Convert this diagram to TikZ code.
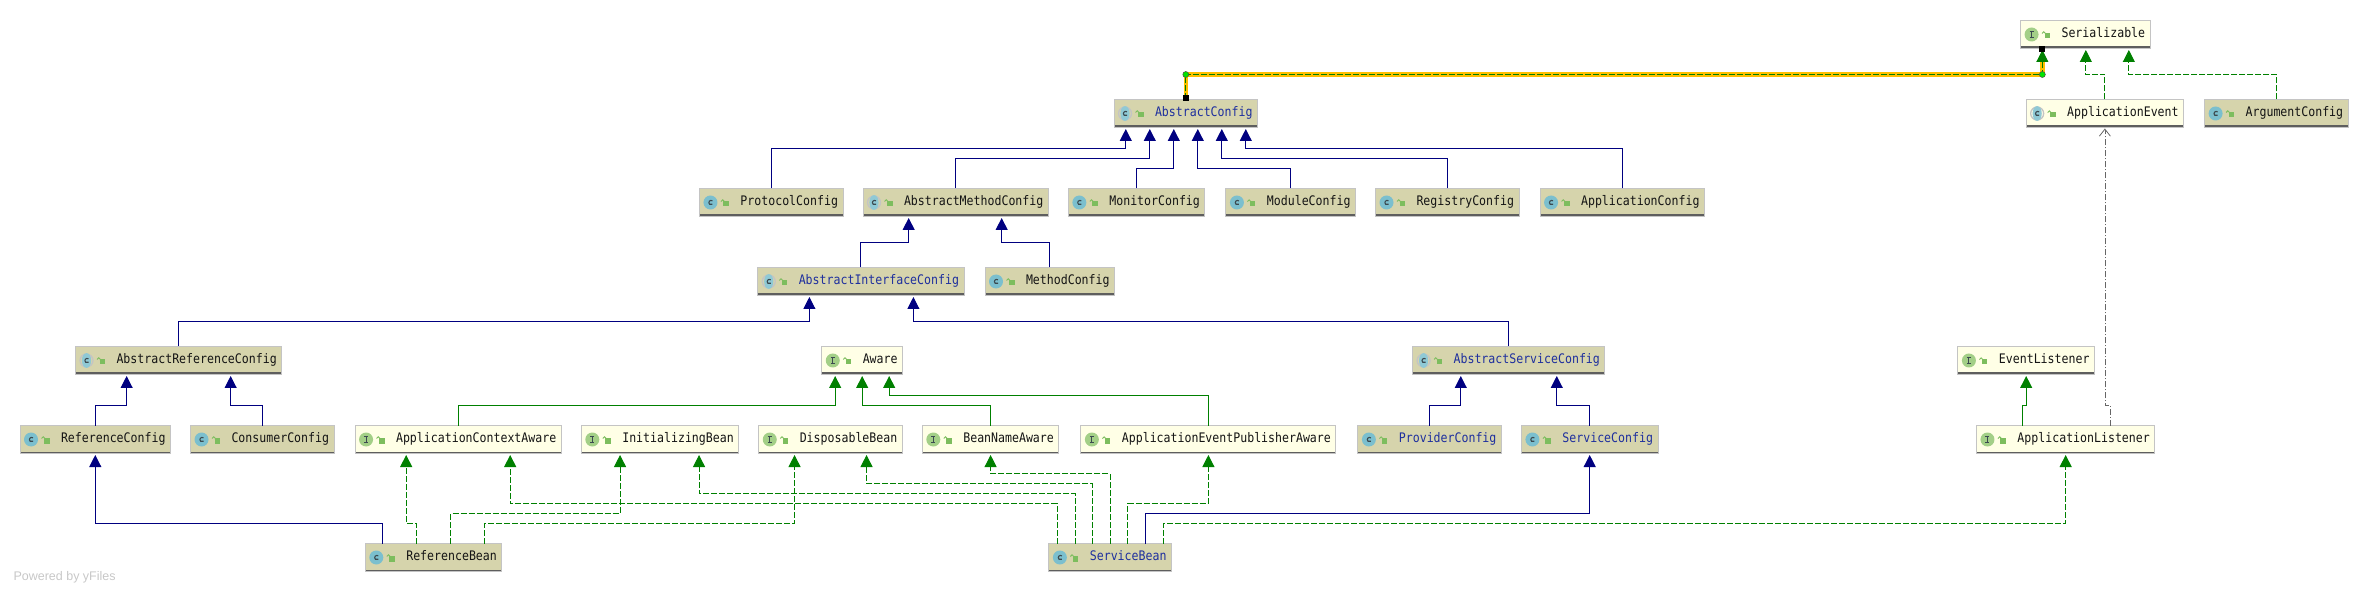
\documentclass[tikz,border=0pt]{standalone}
\usepackage{fontspec}
\setmainfont{Liberation Sans}
\setmonofont{DejaVu Sans Mono}[FakeStretch=0.88]
\usepackage{xcolor}
\usetikzlibrary{arrows.meta,positioning}
\definecolor{classfill}{HTML}{D6D4AC}
\definecolor{ifacefill}{HTML}{FFFFE6}
\definecolor{boxedge}{HTML}{C4C4C4}
\definecolor{boxfoot}{HTML}{5E5E5E}
\definecolor{extendblue}{HTML}{000080}
\definecolor{implgreen}{HTML}{008000}
\definecolor{hlyellow}{HTML}{FFBF00}
\definecolor{iconteal}{HTML}{7BBFCE}
\definecolor{icongreen}{HTML}{A3CF87}
\definecolor{lockgreen}{HTML}{7DBD5E}
\definecolor{glyphgrey}{HTML}{3C4A50}
\definecolor{nameblue}{HTML}{1E2F9E}
\newcommand{\lockicon}{%
    \fill[lockgreen] ([xshift=24pt,yshift=-4pt]path picture bounding box.west) rectangle +(5.5pt,5.5pt);
    \draw[lockgreen,line width=0.9pt] ([xshift=21.5pt,yshift=1pt]path picture bounding box.west)
        arc[start angle=180,end angle=0,radius=1.7pt] -- +(0,-1pt);
}
\newcommand{\footline}{%
    \draw[boxfoot,line width=1.6pt] ([yshift=1.2pt]path picture bounding box.south west)
        -- ([yshift=1.2pt]path picture bounding box.south east);
}
\newcommand{\cglyph}{%
    \draw[glyphgrey,line width=1.1pt] ([xshift=13pt,yshift=1.6pt]path picture bounding box.west)
        arc[start angle=50,end angle=310,radius=2.2pt];
}
\begin{document}
\begin{tikzpicture}[
    x=1pt, y=1pt,
    node distance=20pt,
    basebox/.style={
        rectangle,
        draw=boxedge,
        line width=1pt,
        outer sep=0pt,
        inner xsep=5pt,
        minimum height=28pt,
        text height=9.4pt,
        text depth=2.6pt,
        text=black!92,
        font=\ttfamily\fontsize{13.15}{15}\selectfont,
        execute at begin node={\hspace*{36pt}}
    },
    classbox/.style={
        basebox,
        fill=classfill,
        path picture={
            \fill[iconteal] ([xshift=11pt]path picture bounding box.west) circle (7pt);
            \cglyph \lockicon \footline
        }
    },
    abstractbox/.style={
        basebox,
        fill=#1,
        path picture={
            \draw[boxedge,line width=1.3pt] ([xshift=11pt]path picture bounding box.west) circle (6.5pt);
            \fill[iconteal!85!white] ([xshift=11pt]path picture bounding box.west) ellipse (4.6pt and 7.4pt);
            \cglyph \lockicon \footline
        }
    },
    abstractbox/.default=classfill,
    ifacebox/.style={
        basebox,
        fill=ifacefill,
        path picture={
            \fill[icongreen] ([xshift=11pt]path picture bounding box.west) circle (7pt);
            \draw[glyphgrey,line width=1.1pt] ([xshift=9pt,yshift=3pt]path picture bounding box.west) -- +(4pt,0)
                ([xshift=9pt,yshift=-3pt]path picture bounding box.west) -- +(4pt,0)
                ([xshift=11pt,yshift=3pt]path picture bounding box.west) -- +(0,-6pt);
            \lockicon \footline
        }
    },
    bluename/.style={text=nameblue},
    extends/.style={draw=extendblue, line width=1pt, shorten >=1.5pt,
        -{Triangle[length=12pt,width=12pt,fill=extendblue]}},
    ifaceext/.style={draw=implgreen, line width=1pt, shorten >=1.5pt,
        -{Triangle[length=12pt,width=12pt,fill=implgreen]}},
    impl/.style={ifaceext, dash pattern=on 6pt off 2pt},
    listens/.style={draw=black!60, line width=0.8pt, dash pattern=on 6pt off 2pt on 1pt off 2pt, shorten >=1pt,
        -{Straight Barb[length=7pt,width=11pt]}},
    hlbend/.style={circle, draw=black!70, fill=green!90!black, line width=0.5pt, minimum size=6pt, inner sep=0pt},
    hlend/.style={rectangle, fill=black, minimum size=6pt, inner sep=0pt},
    poweredby/.style={text=black!22, font=\fontsize{12.5}{14}\selectfont}
]
    \useasboundingbox (0,0) rectangle (2369,-593);

    % top rows
    \node[abstractbox, bluename, anchor=north west] (abstractconfig) at (1114,-99.5) {AbstractConfig};
    \node[ifacebox, above right=51pt and 763pt of abstractconfig] (serializable) {Serializable};
    \node[abstractbox=ifacefill, below right=51pt and -124pt of serializable] (appevent) {ApplicationEvent};
    \node[classbox, right=21pt of appevent] (argumentconfig) {ArgumentConfig};

    % children of AbstractConfig
    \node[classbox, below left=61pt and 271pt of abstractconfig] (protocolconfig) {ProtocolConfig};
    \node[abstractbox, right=of protocolconfig] (abstractmethod) {AbstractMethodConfig};
    \node[classbox, right=of abstractmethod] (monitorconfig) {MonitorConfig};
    \node[classbox, right=21pt of monitorconfig] (moduleconfig) {ModuleConfig};
    \node[classbox, right=of moduleconfig] (registryconfig) {RegistryConfig};
    \node[classbox, right=21pt of registryconfig] (applicationconfig) {ApplicationConfig};

    \node[abstractbox, bluename, below left=51pt and -101pt of abstractmethod] (abstractinterface) {AbstractInterfaceConfig};
    \node[classbox, right=21pt of abstractinterface] (methodconfig) {MethodConfig};

    % row with Aware
    \node[abstractbox, below left=51pt and 476pt of abstractinterface] (abstractreference) {AbstractReferenceConfig};
    \node[ifacebox, right=540pt of abstractreference] (aware) {Aware};
    \node[abstractbox, bluename, right=510pt of aware] (abstractservice) {AbstractServiceConfig};
    \node[ifacebox, right=353pt of abstractservice] (eventlistener) {EventListener};

    % row below
    \node[classbox, below left=51pt and -95pt of abstractreference] (referenceconfig) {ReferenceConfig};
    \node[classbox, right=of referenceconfig] (consumerconfig) {ConsumerConfig};
    \node[ifacebox, right=21pt of consumerconfig] (contextaware) {ApplicationContextAware};
    \node[ifacebox, right=of contextaware] (initializingbean) {InitializingBean};
    \node[ifacebox, right=of initializingbean] (disposablebean) {DisposableBean};
    \node[ifacebox, right=of disposablebean] (beannameaware) {BeanNameAware};
    \node[ifacebox, right=22pt of beannameaware] (publisheraware) {ApplicationEventPublisherAware};
    \node[classbox, bluename, right=22pt of publisheraware] (providerconfig) {ProviderConfig};
    \node[classbox, bluename, right=of providerconfig] (serviceconfig) {ServiceConfig};
    \node[ifacebox, below right=51pt and -118pt of eventlistener] (applistener) {ApplicationListener};

    % beans
    \node[classbox, below right=90pt and -196pt of contextaware] (referencebean) {ReferenceBean};
    \node[classbox, bluename, right=547pt of referencebean] (servicebean) {ServiceBean};

    \node[poweredby, anchor=west] (yfiles) at (10,-577) {Powered by yFiles};

    % AbstractConfig family
    \draw[extends] (protocolconfig.north) -- ++(0,40) -| ([xshift=-60pt]abstractconfig.south);
    \draw[extends] (abstractmethod.north) -- ++(0,30) -| ([xshift=-36pt]abstractconfig.south);
    \draw[extends] (monitorconfig.north) -- ++(0,20) -| ([xshift=-12pt]abstractconfig.south);
    \draw[extends] (moduleconfig.north) -- ++(0,20) -| ([xshift=12pt]abstractconfig.south);
    \draw[extends] (registryconfig.north) -- ++(0,30) -| ([xshift=36pt]abstractconfig.south);
    \draw[extends] (applicationconfig.north) -- ++(0,40) -| ([xshift=60pt]abstractconfig.south);
    \draw[extends] (abstractinterface.north) -- ++(0,25) -| ([xshift=-47pt]abstractmethod.south);
    \draw[extends] (methodconfig.north) -- ++(0,25) -| ([xshift=46pt]abstractmethod.south);
    \draw[extends] (abstractreference.north) -- ++(0,25) -| ([xshift=-51.5pt]abstractinterface.south);
    \draw[extends] (abstractservice.north) -- ++(0,25) -| ([xshift=52.5pt]abstractinterface.south);
    \draw[extends] (referenceconfig.north) -- ++(0,20) -| ([xshift=-52pt]abstractreference.south);
    \draw[extends] (consumerconfig.north) -- ++(0,20) -| ([xshift=52pt]abstractreference.south);
    \draw[extends] (providerconfig.north) -- ++(0,20) -| ([xshift=-48pt]abstractservice.south);
    \draw[extends] (serviceconfig.north) -- ++(0,20) -| ([xshift=48pt]abstractservice.south);

    % Aware family
    \draw[ifaceext] (contextaware.north) -- ++(0,20) -| ([xshift=-27pt]aware.south);
    \draw[ifaceext] (beannameaware.north) -- ++(0,20) -| (aware.south);
    \draw[ifaceext] (publisheraware.north) -- ++(0,30) -| ([xshift=27pt]aware.south);
    \draw[ifaceext] ([xshift=-43.5pt]applistener.north) -- ++(0,20) -| (eventlistener.south);

    % ReferenceBean
    \draw[extends] ([xshift=-51.5pt]referencebean.north) -- ++(0,20) -| (referenceconfig.south);
    \draw[impl] ([xshift=-17pt]referencebean.north) -- ++(0,20) -| ([xshift=-52pt]contextaware.south);
    \draw[impl] ([xshift=17pt]referencebean.north) -- ++(0,30) -| ([xshift=-40pt]initializingbean.south);
    \draw[impl] ([xshift=50.5pt]referencebean.north) -- ++(0,20) -| ([xshift=-36pt]disposablebean.south);

    % ServiceBean
    \draw[impl] ([xshift=-53pt]servicebean.north) -- ++(0,40) -| ([xshift=52pt]contextaware.south);
    \draw[impl] ([xshift=-35pt]servicebean.north) -- ++(0,50) -| ([xshift=39pt]initializingbean.south);
    \draw[impl] ([xshift=-18pt]servicebean.north) -- ++(0,60) -| ([xshift=36pt]disposablebean.south);
    \draw[impl] (servicebean.north) -- ++(0,70) -| (beannameaware.south);
    \draw[impl] ([xshift=17.5pt]servicebean.north) -- ++(0,40) -| (publisheraware.south);
    \draw[extends] ([xshift=35pt]servicebean.north) -- ++(0,30) -| (serviceconfig.south);
    \draw[impl] ([xshift=53pt]servicebean.north) -- ++(0,20) -| (applistener.south);

    % Serializable
    \draw[impl] (appevent.north) -- ++(0,25) -| ([xshift=0.5pt]serializable.south);
    \draw[impl] (argumentconfig.north) -- ++(0,25) -| ([xshift=43.5pt]serializable.south);
    \draw[listens] ([xshift=45pt]applistener.north) -- ++(0,20) -| (appevent.south);

    % selected edge
    \draw[hlyellow, line width=4.5pt] (abstractconfig.north) -- ++(0,25) -| ([xshift=-43pt,yshift=-8pt]serializable.south);
    \draw[impl] (abstractconfig.north) -- ++(0,25) -| ([xshift=-43pt]serializable.south);
    \node[hlbend] (bendleft) at ([yshift=25pt]abstractconfig.north) {};
    \node[hlbend] (bendright) at ([xshift=-43pt,yshift=-26pt]serializable.south) {};
    \node[hlend] (endleft) at ([yshift=1pt]abstractconfig.north) {};
    \node[hlend] (endright) at ([xshift=-43pt,yshift=-1pt]serializable.south) {};
\end{tikzpicture}
\end{document}
